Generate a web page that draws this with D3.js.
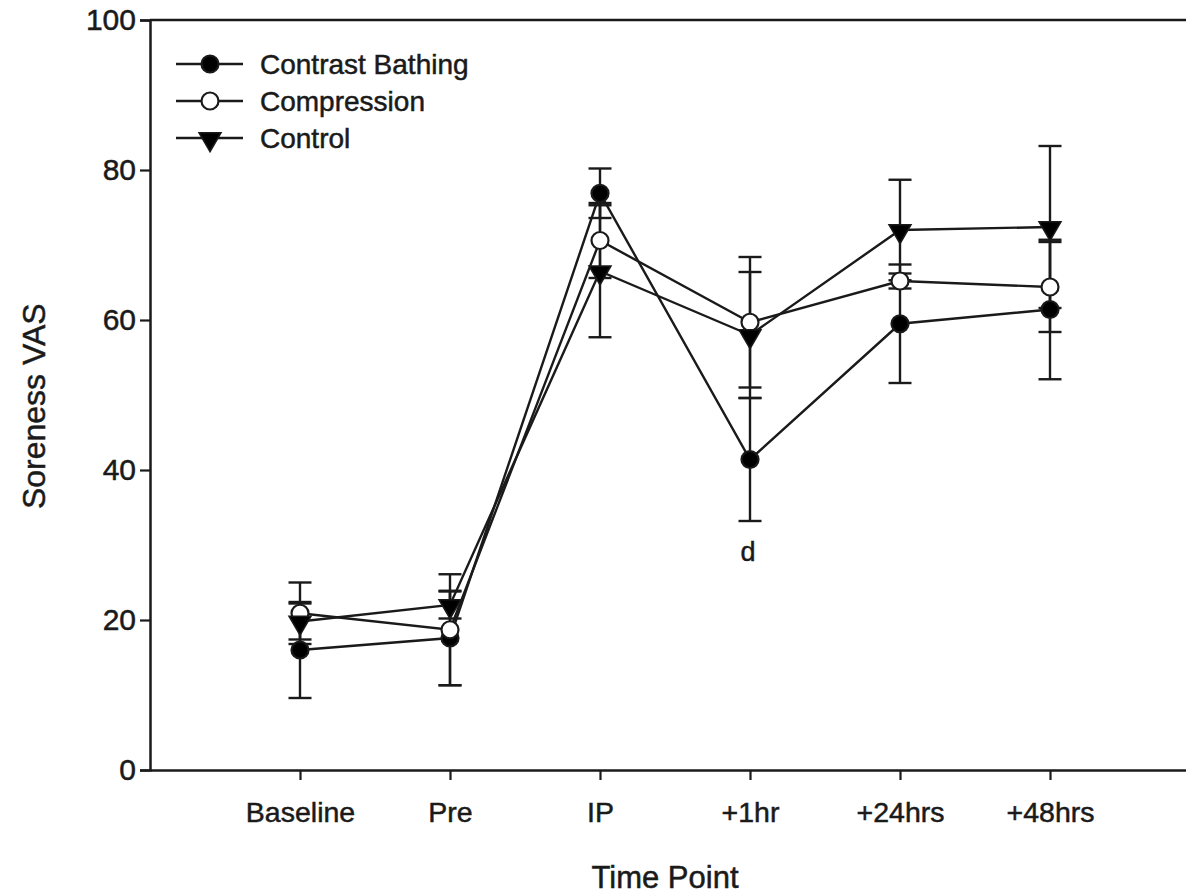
<!DOCTYPE html>
<html>
<head>
<meta charset="utf-8">
<script src="https://cdn.jsdelivr.net/npm/d3@7.9.0/dist/d3.min.js"></script>
<style>
  body { margin: 0; background: #fff; }
  svg { display: block; font-family: "Liberation Sans", Arial, sans-serif; }
  text { stroke: #1a1a1a; stroke-width: 0.5px; }
</style>
</head>
<body>
<svg id="chart" width="1186" height="894"></svg>
<script>
const categories = ["Baseline", "Pre", "IP", "+1hr", "+24hrs", "+48hrs"];

const contrastMean = [16.0, 17.6, 76.9, 41.4, 59.5, 61.4];
const contrastErr = [6.4, 6.3, 3.3, 8.2, 7.9, 9.3];

const compressionMean = [20.9, 18.7, 70.6, 59.7, 65.2, 64.4];
const compressionErr = [4.1, 7.4, 5.0, 8.7, 1.0, 6.0];

const controlMean = [19.8, 22.0, 66.5, 58.0, 72.0, 72.4];
const controlErr = [2.4, 1.8, 8.8, 8.4, 6.7, 10.8];

const yTicks = [0, 20, 40, 60, 80, 100];

const series = [
    { name: "Contrast Bathing", mean: contrastMean, err: contrastErr, shape: "circle", fill: "#000" },
    { name: "Compression", mean: compressionMean, err: compressionErr, shape: "circle", fill: "#fff" },
    { name: "Control", mean: controlMean, err: controlErr, shape: "triangle", fill: "#000" }
];

const ink = "#1a1a1a";
const lw = 2.4;
const svg = d3.select("#chart");

const x = d3.scalePoint().domain(categories).range([150, 1200]).padding(1);
const y = d3.scaleLinear().domain([0, 100]).range([770, 20]);

// axes
const yAxis = svg.append("g")
    .attr("transform", "translate(150,0)")
    .call(d3.axisLeft(y).tickValues(yTicks).tickSize(10).tickPadding(4));
yAxis.select(".domain").attr("stroke", ink).attr("stroke-width", 2.5);
yAxis.selectAll(".tick line").attr("stroke", ink).attr("stroke-width", 2.2);
yAxis.selectAll(".tick text").attr("font-size", 30).attr("fill", ink);

const xAxis = svg.append("g")
    .attr("transform", "translate(0,770)")
    .call(d3.axisBottom(x).tickSize(10).tickSizeOuter(0).tickPadding(22));
xAxis.select(".domain").attr("stroke", ink).attr("stroke-width", 2.5);
xAxis.selectAll(".tick line").attr("stroke", ink).attr("stroke-width", 2.2);
xAxis.selectAll(".tick text").attr("font-size", 28.5).attr("fill", ink);

// top frame line
svg.append("line")
    .attr("x1", 150).attr("x2", 1200)
    .attr("y1", y(100)).attr("y2", y(100))
    .attr("stroke", ink).attr("stroke-width", 2.5);

// axis titles
svg.append("text")
    .attr("transform", `translate(45,${y(48.5)}) rotate(-90)`)
    .attr("text-anchor", "middle")
    .attr("font-size", 32)
    .attr("fill", ink)
    .text("Soreness VAS");

svg.append("text")
    .attr("x", 665).attr("y", 888)
    .attr("text-anchor", "middle")
    .attr("font-size", 31)
    .attr("fill", ink)
    .text("Time Point");

const tri = d3.symbol().type(d3.symbolTriangle).size(210);

function drawMarker(g, s, cx, cy) {
    if (s.shape === "circle") {
        g.append("circle")
            .attr("cx", cx).attr("cy", cy).attr("r", 8.5)
            .attr("fill", s.fill).attr("stroke", ink).attr("stroke-width", 2.2);
    } else {
        g.append("path")
            .attr("d", tri())
            .attr("transform", `translate(${cx},${cy + 1}) rotate(180)`)
            .attr("fill", s.fill).attr("stroke", ink).attr("stroke-width", 1.5);
    }
}

const line = d3.line()
    .x((d, i) => x(categories[i]))
    .y(d => y(d));

// error bars
series.forEach(s => {
    const g = svg.append("g");
    s.mean.forEach((m, i) => {
        const cx = x(categories[i]);
        const lo = y(m - s.err[i]), hi = y(m + s.err[i]);
        g.append("line").attr("x1", cx).attr("x2", cx).attr("y1", lo).attr("y2", hi)
            .attr("stroke", ink).attr("stroke-width", lw);
        [lo, hi].forEach(v => {
            g.append("line").attr("x1", cx - 11.5).attr("x2", cx + 11.5).attr("y1", v).attr("y2", v)
                .attr("stroke", ink).attr("stroke-width", lw);
        });
    });
});

// lines
series.forEach(s => {
    svg.append("path")
        .datum(s.mean)
        .attr("d", line)
        .attr("fill", "none")
        .attr("stroke", ink)
        .attr("stroke-width", lw);
});

// markers
series.forEach(s => {
    const g = svg.append("g");
    s.mean.forEach((m, i) => drawMarker(g, s, x(categories[i]), y(m)));
});

// significance letter
svg.append("text")
    .attr("x", x("+1hr") - 2)
    .attr("y", y(contrastMean[3] - contrastErr[3]) + 40)
    .attr("text-anchor", "middle")
    .attr("font-size", 27)
    .attr("fill", ink)
    .text("d");

// legend
const legend = svg.append("g").attr("transform", "translate(176,64)");
series.forEach((s, i) => {
    const row = legend.append("g").attr("transform", `translate(0,${i * 37})`);
    row.append("line").attr("x1", 0).attr("x2", 67).attr("y1", 0).attr("y2", 0)
        .attr("stroke", ink).attr("stroke-width", lw);
    drawMarker(row, s, 34, 0);
    row.append("text")
        .attr("x", 84).attr("y", 10)
        .attr("font-size", 28)
        .attr("fill", ink)
        .text(s.name);
});
</script>
</body>
</html>
